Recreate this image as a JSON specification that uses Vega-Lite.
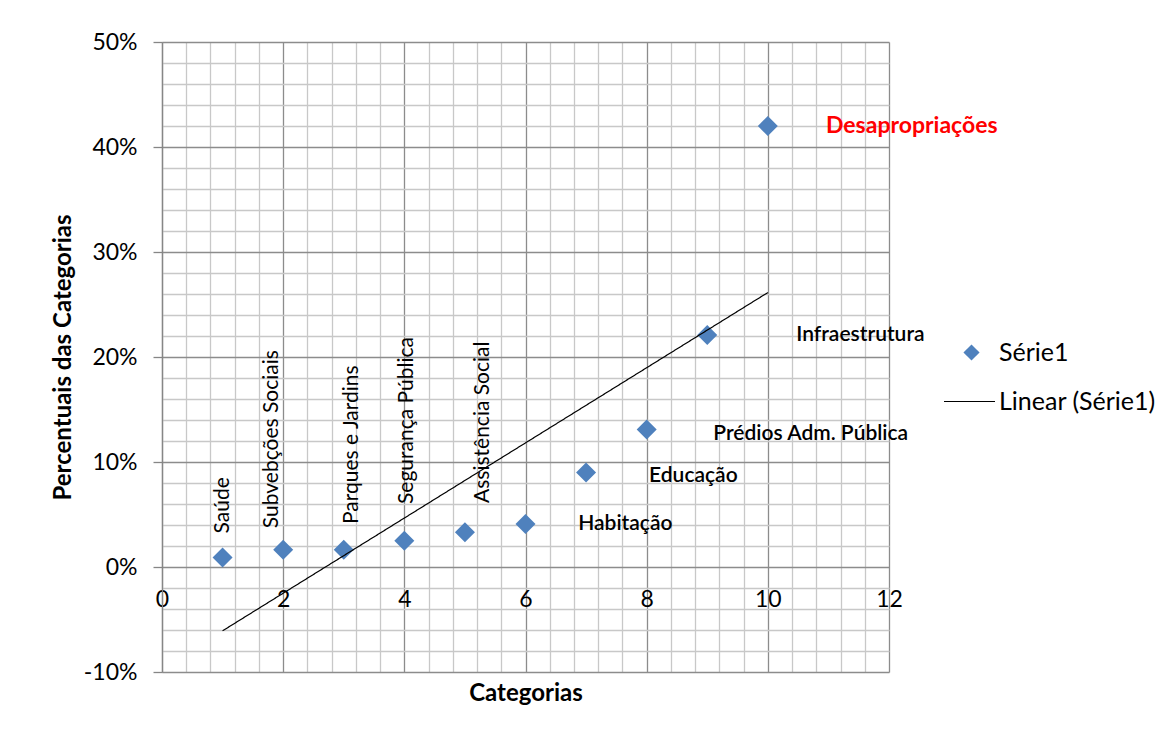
{
  "$schema": "https://vega.github.io/schema/vega-lite/v6.json",
  "width": 727,
  "height": 630,
  "autosize": {"type": "none"},
  "padding": {"left": 162, "top": 42, "right": 282, "bottom": 62},
  "background": "white",
  "config": {
    "view": {"stroke": null},
    "font": "Lato",
    "axis": {"labelFont": "Lato", "titleFont": "Lato", "labelColor": "#000000", "titleColor": "#000000"},
    "legend": {"labelFont": "Lato", "labelColor": "#000000"},
    "text": {"font": "Lato"}
  },
  "datasets": {
    "pontos": [
      {"x": 1, "pct": 0.009},
      {"x": 2, "pct": 0.0165},
      {"x": 3, "pct": 0.0165},
      {"x": 4, "pct": 0.025},
      {"x": 5, "pct": 0.033},
      {"x": 6, "pct": 0.041},
      {"x": 7, "pct": 0.09},
      {"x": 8, "pct": 0.131},
      {"x": 9, "pct": 0.221},
      {"x": 10, "pct": 0.42}
    ],
    "rotulos_verticais": [
      {"x": 1.01, "pct": 0.032, "label": "Saúde"},
      {"x": 1.82, "pct": 0.037, "label": "Subvebções Sociais"},
      {"x": 3.14, "pct": 0.041, "label": "Parques e Jardins"},
      {"x": 4.04, "pct": 0.06, "label": "Segurança Pública"},
      {"x": 5.3, "pct": 0.061, "label": "Assistência  Social"}
    ],
    "rotulos_horizontais": [
      {"x": 6.87, "pct": 0.0414, "label": "Habitação"},
      {"x": 8.04, "pct": 0.087, "label": "Educação"},
      {"x": 9.1, "pct": 0.127, "label": "Prédios Adm. Pública"},
      {"x": 10.47, "pct": 0.221, "label": "Infraestrutura"}
    ],
    "destaque": [
      {"x": 10.96, "pct": 0.42, "label": "Desapropriações"}
    ]
  },
  "layer": [
    {
      "data": {"name": "pontos"},
      "mark": {"type": "point", "filled": true, "size": 400, "opacity": 1, "color": "#4f81bd"},
      "encoding": {
        "x": {
          "field": "x", "type": "quantitative",
          "scale": {"domain": [0, 12], "nice": false, "zero": false},
          "axis": {
            "orient": "bottom", "title": null, "labels": false, "ticks": false, "domain": false,
            "grid": true, "gridColor": "#c8c8c8", "gridWidth": 1.3,
            "values": [0.4, 0.8, 1.2, 1.6, 2.4, 2.8, 3.2, 3.6, 4.4, 4.8, 5.2, 5.6, 6.4, 6.8, 7.2, 7.6, 8.4, 8.8, 9.2, 9.6, 10.4, 10.8, 11.2, 11.6]
          }
        },
        "y": {
          "field": "pct", "type": "quantitative",
          "scale": {"domain": [-0.1, 0.5], "nice": false, "zero": false},
          "axis": {
            "orient": "left", "title": null, "labels": false, "ticks": false, "domain": false,
            "grid": true, "gridColor": "#c8c8c8", "gridWidth": 1.3,
            "values": [-0.08, -0.06, -0.04, -0.02, 0.02, 0.04, 0.06, 0.08, 0.12, 0.14, 0.16, 0.18, 0.22, 0.24, 0.26, 0.28, 0.32, 0.34, 0.36, 0.38, 0.42, 0.44, 0.46, 0.48]
          }
        },
        "shape": {
          "datum": "Série1", "type": "nominal",
          "scale": {"range": ["diamond"]},
          "legend": {
            "orient": "none", "legendX": 797, "legendY": 298, "title": null, "padding": 0,
            "symbolSize": 260, "symbolFillColor": "#4f81bd", "symbolStrokeWidth": 0,
            "labelFontSize": 25, "labelOffset": 15
          }
        }
      }
    },
    {
      "data": {"name": "pontos"},
      "transform": [{"regression": "pct", "on": "x", "extent": [1, 10]}],
      "mark": {"type": "line", "color": "#000000", "strokeWidth": 1.2},
      "encoding": {
        "x": {
          "field": "x", "type": "quantitative",
          "scale": {"domain": [0, 12], "nice": false, "zero": false},
          "axis": {
            "orient": "bottom", "offset": -105.5, "title": "Categorias", "titleFontSize": 24, "titleFontWeight": "bold",
            "titlePadding": 70, "labels": true, "labelFontSize": 23, "labelPadding": 22, "labelFlush": false,
            "ticks": false, "domain": false,
            "grid": true, "gridColor": "#8c8c8c", "gridWidth": 1.3,
            "values": [0, 2, 4, 6, 8, 10, 12]
          }
        },
        "y": {
          "field": "pct", "type": "quantitative",
          "scale": {"domain": [-0.1, 0.5], "nice": false, "zero": false},
          "axis": {
            "orient": "left", "title": "Percentuais das Categorias", "titleFontSize": 24, "titleFontWeight": "bold",
            "titlePadding": 8, "format": ".0%", "labelExpr": "replace(datum.label, '\u2212', '-')",
            "labelFontSize": 23, "labelPadding": 16, "labelFlush": false,
            "ticks": true, "tickSize": 9, "tickColor": "#868686", "tickWidth": 1.3,
            "domain": true, "domainColor": "#868686", "domainWidth": 1.3,
            "grid": true, "gridColor": "#8c8c8c", "gridWidth": 1.3,
            "values": [-0.1, 0, 0.1, 0.2, 0.3, 0.4, 0.5]
          }
        },
        "strokeDash": {
          "datum": "Linear (Série1)", "type": "nominal",
          "scale": {"range": [[1, 0]]},
          "legend": {
            "orient": "none", "legendX": 781, "legendY": 333, "title": null, "padding": 0,
            "symbolSize": 2600, "symbolStrokeColor": "#000000", "symbolStrokeWidth": 1.2,
            "labelFontSize": 25, "labelOffset": 3
          }
        }
      }
    },
    {
      "data": {"name": "rotulos_verticais"},
      "mark": {"type": "text", "angle": 270, "align": "left", "baseline": "middle", "fontSize": 21, "color": "#000000"},
      "encoding": {
        "x": {"field": "x", "type": "quantitative", "axis": null},
        "y": {"field": "pct", "type": "quantitative", "axis": null},
        "text": {"field": "label"}
      }
    },
    {
      "data": {"name": "rotulos_horizontais"},
      "mark": {"type": "text", "align": "left", "baseline": "middle", "fontSize": 21, "fontWeight": 600, "color": "#000000"},
      "encoding": {
        "x": {"field": "x", "type": "quantitative", "axis": null},
        "y": {"field": "pct", "type": "quantitative", "axis": null},
        "text": {"field": "label"}
      }
    },
    {
      "data": {"name": "destaque"},
      "mark": {"type": "text", "align": "left", "baseline": "middle", "fontSize": 23, "fontWeight": "bold", "color": "#ff0000"},
      "encoding": {
        "x": {"field": "x", "type": "quantitative", "axis": null},
        "y": {"field": "pct", "type": "quantitative", "axis": null},
        "text": {"field": "label"}
      }
    }
  ],
  "resolve": {"axis": {"x": "independent", "y": "independent"}}
}
